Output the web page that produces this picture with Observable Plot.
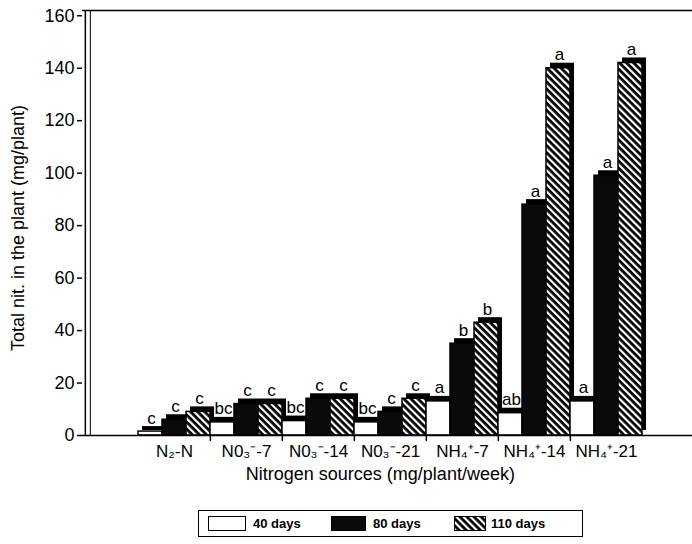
<!DOCTYPE html>
<html><head><meta charset="utf-8">
<script src="https://cdn.jsdelivr.net/npm/d3@7"></script>
<script src="https://cdn.jsdelivr.net/npm/@observablehq/plot@0.6"></script>
<style>
body{margin:0;background:#fff;font-family:"Liberation Sans",Arial,Helvetica,sans-serif;overflow:hidden;}
#chart{position:relative;width:692px;height:544px;overflow:hidden;}
#chart > svg{display:block;}
.legend{position:absolute;left:198px;top:510px;width:385px;height:27px;border:1px solid #000;box-sizing:border-box;font-weight:bold;font-size:13px;}
.legend .sw{position:absolute;top:5px;height:15px;box-sizing:border-box;}
.legend .tx{position:absolute;top:4px;line-height:17px;}
</style></head><body><div id="chart"></div>
<script>
const categories = ["N₂-N", "N0₃⁻-7", "N0₃⁻-14", "N0₃⁻-21", "NH₄⁺-7", "NH₄⁺-14", "NH₄⁺-21"];
const series = ["40 days", "80 days", "110 days"];
const days40 = [1.5, 5, 5.5, 5, 13, 8.5, 13];
const days80 = [6, 12, 14, 9, 35, 88, 99];
const days110 = [9, 12, 14, 14, 43, 140, 142];
const letters40 = ["c", "bc", "bc", "bc", "a", "ab", "a"];
const letters80 = ["c", "c", "c", "c", "b", "a", "a"];
const letters110 = ["c", "c", "c", "c", "b", "a", "a"];
const yTicks = [0, 20, 40, 60, 80, 100, 120, 140, 160];
const yMax = 162;
const yLabel = "Total nit. in the plant (mg/plant)";
const xLabel = "Nitrogen sources (mg/plant/week)";

const values = [days40, days80, days110];
const letters = [letters40, letters80, letters110];
const data = [];
categories.forEach((c, i) => series.forEach((s, j) => data.push({
  cat: c, series: s, key: c + "|" + s, value: values[j][i], letter: letters[j][i]
})));
const keys = data.map(d => d.key);
const marginLeft = 82;
const xRange = [135, 645];
const bw = (xRange[1] - xRange[0]) / keys.length;
const axisShift = marginLeft - (xRange[0] + bw / 2);
const fills = {"40 days": "#fff", "80 days": "#0a0a0a", "110 days": "url(#hatch)"};

const plot = Plot.plot({
  width: 692, height: 490,
  marginTop: 10, marginBottom: 55, marginLeft, marginRight: 0,
  style: {fontFamily: '"Liberation Sans", Arial, Helvetica, sans-serif', fontSize: "16px", background: "#fff", color: "#000"},
  x: {domain: keys, range: xRange, padding: 0},
  y: {domain: [0, yMax]},
  marks: [
    Plot.ruleY([yMax], {strokeWidth: 1.5}),
    Plot.ruleX([keys[0]], {dx: axisShift, strokeWidth: 1.5}),
    Plot.ruleX([keys[0]], {dx: axisShift + 5, strokeWidth: 1}),
    Plot.axisY({ticks: yTicks, tickSize: 5, tickPadding: 3, fontSize: 18, label: null, strokeWidth: 1.5}),
    Plot.text([yLabel], {frameAnchor: "left", textAnchor: "middle", rotate: -90, dx: -64, dy: 5, fontSize: 18}),
    Plot.barY(data, {x: "key", y: "value", fill: "#000", dx: 4, dy: -5}),
    Plot.barY(data, {x: "key", y: "value", fill: d => fills[d.series], stroke: "#000", strokeWidth: 1.5}),
    Plot.ruleY([0], {strokeWidth: 1.5}),
    Plot.text(data, {x: "key", y: "value", text: "letter", dy: -8, dx: 1, lineAnchor: "bottom", fontSize: 17}),
    Plot.axisX({ticks: keys.filter(k => k.endsWith("|80 days")), tickSize: 0, tickPadding: 9, fontSize: 17,
      tickFormat: k => k.split("|")[0], label: null}),
    Plot.axisX({ticks: keys.filter(k => k.endsWith("|40 days")).slice(1), tickSize: 6, tickFormat: () => "", label: null, dx: -bw / 2, strokeWidth: 1.5}),
    Plot.text([xLabel], {x: () => keys[10], dx: -bw / 2 + 2, frameAnchor: "bottom", dy: 44, fontSize: 18})
  ]
});

const svg = d3.select(plot);
const defs = svg.insert("defs", ":first-child");
const p = defs.append("pattern").attr("id", "hatch").attr("patternUnits", "userSpaceOnUse")
  .attr("width", 5).attr("height", 5).attr("patternTransform", "rotate(-45)");
p.append("rect").attr("width", 5).attr("height", 5).attr("fill", "#000");
p.append("rect").attr("width", 2.2).attr("height", 5).attr("fill", "#fff");

const chart = document.getElementById("chart");
chart.appendChild(plot);

const legend = document.createElement("div");
legend.className = "legend";
const pos = [[9, 38, 54], [132, 35, 174], [255, 32, 292]];
series.forEach((s, j) => {
  const [sx, sw, tx] = pos[j];
  let sHtml;
  if (j === 2) {
    sHtml = `<svg class="sw" style="left:${sx}px;width:${sw}px" width="${sw}" height="15"><defs><pattern id="lh" patternUnits="userSpaceOnUse" width="5" height="5" patternTransform="rotate(-45)"><rect width="5" height="5" fill="#000"/><rect width="2.2" height="5" fill="#fff"/></pattern></defs><rect x="0.5" y="0.5" width="${sw-1}" height="14" fill="url(#lh)" stroke="#000"/></svg>`;
  } else {
    sHtml = `<div class="sw" style="left:${sx}px;width:${sw}px;border:1.5px solid #000;background:${j === 0 ? "#fff" : "#0a0a0a"}"></div>`;
  }
  legend.insertAdjacentHTML("beforeend", sHtml + `<div class="tx" style="left:${tx}px">${s}</div>`);
});
chart.appendChild(legend);
</script>
</body></html>
